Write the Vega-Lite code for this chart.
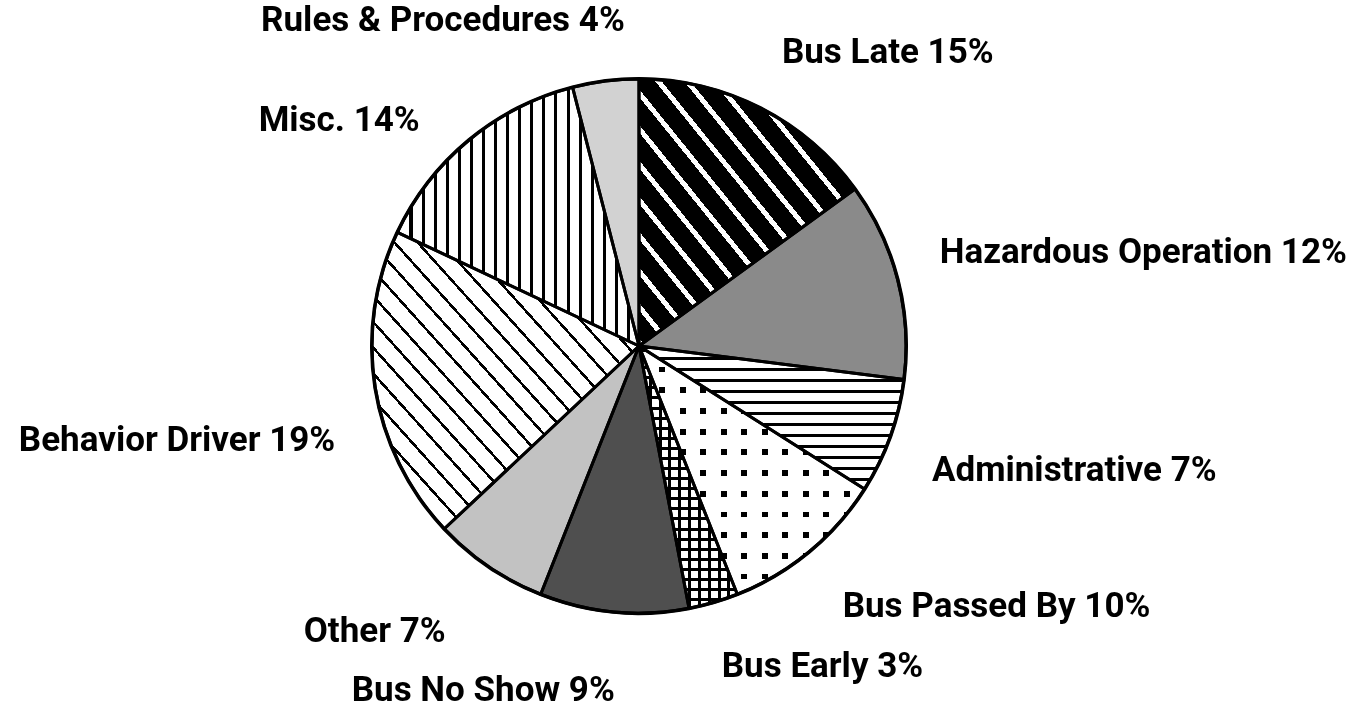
{
"$schema": "https://vega.github.io/schema/vega-lite/v6.json",
"width": 1278, "height": 692,
"autosize": "none",
"padding": {"left": 0, "top": 0, "right": 81, "bottom": 23},
"background": "#ffffff",
"config": {"view": {"stroke": null}, "text": {"font": "Roboto", "fontWeight": "bold", "fontSize": 35, "fill": "#000", "baseline": "middle"}},
"data": {"values": [
{"idx": 1, "cause": "Bus Late", "pct": 15, "label": "Bus Late 15%"},
{"idx": 2, "cause": "Hazardous Operation", "pct": 12, "label": "Hazardous Operation 12%"},
{"idx": 3, "cause": "Administrative", "pct": 7, "label": "Administrative 7%"},
{"idx": 4, "cause": "Bus Passed By", "pct": 10, "label": "Bus Passed By 10%"},
{"idx": 5, "cause": "Bus Early", "pct": 3, "label": "Bus Early 3%"},
{"idx": 6, "cause": "Bus No Show", "pct": 9, "label": "Bus No Show 9%"},
{"idx": 7, "cause": "Other", "pct": 7, "label": "Other 7%"},
{"idx": 8, "cause": "Behavior Driver", "pct": 19, "label": "Behavior Driver 19%"},
{"idx": 9, "cause": "Misc.", "pct": 14, "label": "Misc. 14%"},
{"idx": 10, "cause": "Rules & Procedures", "pct": 4, "label": "Rules & Procedures 4%"}
]},
"encoding": {
 "theta": {"field": "pct", "type": "quantitative", "stack": true},
 "order": {"field": "idx", "type": "quantitative"}
},
"layer": [
{
 "mark": {"type": "arc", "radius": 267, "strokeWidth": 0},
 "encoding": {
  "fill": {"condition": [
   {"test": "datum.cause === 'Bus Late'", "value": {"gradient": "linear", "x1": 0, "y1": 1, "x2": 1, "y2": 0, "stops": [
{"offset":0,"color":"#fff"},{"offset":0.0147,"color":"#fff"},{"offset":0.0147,"color":"#000"},{"offset":0.0667,"color":"#000"},
{"offset":0.0667,"color":"#fff"},{"offset":0.0813,"color":"#fff"},{"offset":0.0813,"color":"#000"},{"offset":0.1333,"color":"#000"},
{"offset":0.1333,"color":"#fff"},{"offset":0.148,"color":"#fff"},{"offset":0.148,"color":"#000"},{"offset":0.2,"color":"#000"},
{"offset":0.2,"color":"#fff"},{"offset":0.2147,"color":"#fff"},{"offset":0.2147,"color":"#000"},{"offset":0.2667,"color":"#000"},
{"offset":0.2667,"color":"#fff"},{"offset":0.2813,"color":"#fff"},{"offset":0.2813,"color":"#000"},{"offset":0.3333,"color":"#000"},
{"offset":0.3333,"color":"#fff"},{"offset":0.348,"color":"#fff"},{"offset":0.348,"color":"#000"},{"offset":0.4,"color":"#000"},
{"offset":0.4,"color":"#fff"},{"offset":0.4147,"color":"#fff"},{"offset":0.4147,"color":"#000"},{"offset":0.4667,"color":"#000"},
{"offset":0.4667,"color":"#fff"},{"offset":0.4813,"color":"#fff"},{"offset":0.4813,"color":"#000"},{"offset":0.5333,"color":"#000"},
{"offset":0.5333,"color":"#fff"},{"offset":0.548,"color":"#fff"},{"offset":0.548,"color":"#000"},{"offset":0.6,"color":"#000"},
{"offset":0.6,"color":"#fff"},{"offset":0.6147,"color":"#fff"},{"offset":0.6147,"color":"#000"},{"offset":0.6667,"color":"#000"},
{"offset":0.6667,"color":"#fff"},{"offset":0.6813,"color":"#fff"},{"offset":0.6813,"color":"#000"},{"offset":0.7333,"color":"#000"},
{"offset":0.7333,"color":"#fff"},{"offset":0.748,"color":"#fff"},{"offset":0.748,"color":"#000"},{"offset":0.8,"color":"#000"},
{"offset":0.8,"color":"#fff"},{"offset":0.8147,"color":"#fff"},{"offset":0.8147,"color":"#000"},{"offset":0.8667,"color":"#000"},
{"offset":0.8667,"color":"#fff"},{"offset":0.8813,"color":"#fff"},{"offset":0.8813,"color":"#000"},{"offset":0.9333,"color":"#000"},
{"offset":0.9333,"color":"#fff"},{"offset":0.948,"color":"#fff"},{"offset":0.948,"color":"#000"},{"offset":1,"color":"#000"}
   ]}},
   {"test": "datum.cause === 'Behavior Driver'", "value": {"gradient": "linear", "x1": 0, "y1": 1, "x2": 1, "y2": 0, "stops": [
{"offset":0,"color":"#000"},{"offset":0.0065,"color":"#000"},{"offset":0.0065,"color":"#fff"},{"offset":0.0435,"color":"#fff"},
{"offset":0.0435,"color":"#000"},{"offset":0.05,"color":"#000"},{"offset":0.05,"color":"#fff"},{"offset":0.087,"color":"#fff"},
{"offset":0.087,"color":"#000"},{"offset":0.0935,"color":"#000"},{"offset":0.0935,"color":"#fff"},{"offset":0.1304,"color":"#fff"},
{"offset":0.1304,"color":"#000"},{"offset":0.1369,"color":"#000"},{"offset":0.1369,"color":"#fff"},{"offset":0.1739,"color":"#fff"},
{"offset":0.1739,"color":"#000"},{"offset":0.1804,"color":"#000"},{"offset":0.1804,"color":"#fff"},{"offset":0.2174,"color":"#fff"},
{"offset":0.2174,"color":"#000"},{"offset":0.2239,"color":"#000"},{"offset":0.2239,"color":"#fff"},{"offset":0.2609,"color":"#fff"},
{"offset":0.2609,"color":"#000"},{"offset":0.2674,"color":"#000"},{"offset":0.2674,"color":"#fff"},{"offset":0.3043,"color":"#fff"},
{"offset":0.3043,"color":"#000"},{"offset":0.3108,"color":"#000"},{"offset":0.3108,"color":"#fff"},{"offset":0.3478,"color":"#fff"},
{"offset":0.3478,"color":"#000"},{"offset":0.3543,"color":"#000"},{"offset":0.3543,"color":"#fff"},{"offset":0.3913,"color":"#fff"},
{"offset":0.3913,"color":"#000"},{"offset":0.3978,"color":"#000"},{"offset":0.3978,"color":"#fff"},{"offset":0.4348,"color":"#fff"},
{"offset":0.4348,"color":"#000"},{"offset":0.4413,"color":"#000"},{"offset":0.4413,"color":"#fff"},{"offset":0.4783,"color":"#fff"},
{"offset":0.4783,"color":"#000"},{"offset":0.4848,"color":"#000"},{"offset":0.4848,"color":"#fff"},{"offset":0.5217,"color":"#fff"},
{"offset":0.5217,"color":"#000"},{"offset":0.5282,"color":"#000"},{"offset":0.5282,"color":"#fff"},{"offset":0.5652,"color":"#fff"},
{"offset":0.5652,"color":"#000"},{"offset":0.5717,"color":"#000"},{"offset":0.5717,"color":"#fff"},{"offset":0.6087,"color":"#fff"},
{"offset":0.6087,"color":"#000"},{"offset":0.6152,"color":"#000"},{"offset":0.6152,"color":"#fff"},{"offset":0.6522,"color":"#fff"},
{"offset":0.6522,"color":"#000"},{"offset":0.6587,"color":"#000"},{"offset":0.6587,"color":"#fff"},{"offset":0.6957,"color":"#fff"},
{"offset":0.6957,"color":"#000"},{"offset":0.7022,"color":"#000"},{"offset":0.7022,"color":"#fff"},{"offset":0.7391,"color":"#fff"},
{"offset":0.7391,"color":"#000"},{"offset":0.7456,"color":"#000"},{"offset":0.7456,"color":"#fff"},{"offset":0.7826,"color":"#fff"},
{"offset":0.7826,"color":"#000"},{"offset":0.7891,"color":"#000"},{"offset":0.7891,"color":"#fff"},{"offset":0.8261,"color":"#fff"},
{"offset":0.8261,"color":"#000"},{"offset":0.8326,"color":"#000"},{"offset":0.8326,"color":"#fff"},{"offset":0.8696,"color":"#fff"},
{"offset":0.8696,"color":"#000"},{"offset":0.8761,"color":"#000"},{"offset":0.8761,"color":"#fff"},{"offset":0.913,"color":"#fff"},
{"offset":0.913,"color":"#000"},{"offset":0.9195,"color":"#000"},{"offset":0.9195,"color":"#fff"},{"offset":0.9565,"color":"#fff"},
{"offset":0.9565,"color":"#000"},{"offset":0.963,"color":"#000"},{"offset":0.963,"color":"#fff"},{"offset":1,"color":"#fff"}
   ]}},
   {"test": "datum.cause === 'Misc.'", "value": {"gradient": "linear", "x1": 0, "y1": 0, "x2": 1, "y2": 0, "stops": [
{"offset":0,"color":"#000"},{"offset":0.0125,"color":"#000"},{"offset":0.0125,"color":"#fff"},{"offset":0.05,"color":"#fff"},
{"offset":0.05,"color":"#000"},{"offset":0.0625,"color":"#000"},{"offset":0.0625,"color":"#fff"},{"offset":0.1,"color":"#fff"},
{"offset":0.1,"color":"#000"},{"offset":0.1125,"color":"#000"},{"offset":0.1125,"color":"#fff"},{"offset":0.15,"color":"#fff"},
{"offset":0.15,"color":"#000"},{"offset":0.1625,"color":"#000"},{"offset":0.1625,"color":"#fff"},{"offset":0.2,"color":"#fff"},
{"offset":0.2,"color":"#000"},{"offset":0.2125,"color":"#000"},{"offset":0.2125,"color":"#fff"},{"offset":0.25,"color":"#fff"},
{"offset":0.25,"color":"#000"},{"offset":0.2625,"color":"#000"},{"offset":0.2625,"color":"#fff"},{"offset":0.3,"color":"#fff"},
{"offset":0.3,"color":"#000"},{"offset":0.3125,"color":"#000"},{"offset":0.3125,"color":"#fff"},{"offset":0.35,"color":"#fff"},
{"offset":0.35,"color":"#000"},{"offset":0.3625,"color":"#000"},{"offset":0.3625,"color":"#fff"},{"offset":0.4,"color":"#fff"},
{"offset":0.4,"color":"#000"},{"offset":0.4125,"color":"#000"},{"offset":0.4125,"color":"#fff"},{"offset":0.45,"color":"#fff"},
{"offset":0.45,"color":"#000"},{"offset":0.4625,"color":"#000"},{"offset":0.4625,"color":"#fff"},{"offset":0.5,"color":"#fff"},
{"offset":0.5,"color":"#000"},{"offset":0.5125,"color":"#000"},{"offset":0.5125,"color":"#fff"},{"offset":0.55,"color":"#fff"},
{"offset":0.55,"color":"#000"},{"offset":0.5625,"color":"#000"},{"offset":0.5625,"color":"#fff"},{"offset":0.6,"color":"#fff"},
{"offset":0.6,"color":"#000"},{"offset":0.6125,"color":"#000"},{"offset":0.6125,"color":"#fff"},{"offset":0.65,"color":"#fff"},
{"offset":0.65,"color":"#000"},{"offset":0.6625,"color":"#000"},{"offset":0.6625,"color":"#fff"},{"offset":0.7,"color":"#fff"},
{"offset":0.7,"color":"#000"},{"offset":0.7125,"color":"#000"},{"offset":0.7125,"color":"#fff"},{"offset":0.75,"color":"#fff"},
{"offset":0.75,"color":"#000"},{"offset":0.7625,"color":"#000"},{"offset":0.7625,"color":"#fff"},{"offset":0.8,"color":"#fff"},
{"offset":0.8,"color":"#000"},{"offset":0.8125,"color":"#000"},{"offset":0.8125,"color":"#fff"},{"offset":0.85,"color":"#fff"},
{"offset":0.85,"color":"#000"},{"offset":0.8625,"color":"#000"},{"offset":0.8625,"color":"#fff"},{"offset":0.9,"color":"#fff"},
{"offset":0.9,"color":"#000"},{"offset":0.9125,"color":"#000"},{"offset":0.9125,"color":"#fff"},{"offset":0.95,"color":"#fff"},
{"offset":0.95,"color":"#000"},{"offset":0.9625,"color":"#000"},{"offset":0.9625,"color":"#fff"},{"offset":1,"color":"#fff"}
   ]}},
   {"test": "datum.cause === 'Administrative'", "value": {"gradient": "linear", "x1": 0, "y1": 0, "x2": 0, "y2": 1, "stops": [
{"offset":0,"color":"#000"},{"offset":0.0231,"color":"#000"},{"offset":0.0231,"color":"#fff"},{"offset":0.0769,"color":"#fff"},
{"offset":0.0769,"color":"#000"},{"offset":0.1,"color":"#000"},{"offset":0.1,"color":"#fff"},{"offset":0.1538,"color":"#fff"},
{"offset":0.1538,"color":"#000"},{"offset":0.1769,"color":"#000"},{"offset":0.1769,"color":"#fff"},{"offset":0.2308,"color":"#fff"},
{"offset":0.2308,"color":"#000"},{"offset":0.2539,"color":"#000"},{"offset":0.2539,"color":"#fff"},{"offset":0.3077,"color":"#fff"},
{"offset":0.3077,"color":"#000"},{"offset":0.3308,"color":"#000"},{"offset":0.3308,"color":"#fff"},{"offset":0.3846,"color":"#fff"},
{"offset":0.3846,"color":"#000"},{"offset":0.4077,"color":"#000"},{"offset":0.4077,"color":"#fff"},{"offset":0.4615,"color":"#fff"},
{"offset":0.4615,"color":"#000"},{"offset":0.4846,"color":"#000"},{"offset":0.4846,"color":"#fff"},{"offset":0.5385,"color":"#fff"},
{"offset":0.5385,"color":"#000"},{"offset":0.5616,"color":"#000"},{"offset":0.5616,"color":"#fff"},{"offset":0.6154,"color":"#fff"},
{"offset":0.6154,"color":"#000"},{"offset":0.6385,"color":"#000"},{"offset":0.6385,"color":"#fff"},{"offset":0.6923,"color":"#fff"},
{"offset":0.6923,"color":"#000"},{"offset":0.7154,"color":"#000"},{"offset":0.7154,"color":"#fff"},{"offset":0.7692,"color":"#fff"},
{"offset":0.7692,"color":"#000"},{"offset":0.7923,"color":"#000"},{"offset":0.7923,"color":"#fff"},{"offset":0.8462,"color":"#fff"},
{"offset":0.8462,"color":"#000"},{"offset":0.8693,"color":"#000"},{"offset":0.8693,"color":"#fff"},{"offset":0.9231,"color":"#fff"},
{"offset":0.9231,"color":"#000"},{"offset":0.9462,"color":"#000"},{"offset":0.9462,"color":"#fff"},{"offset":1,"color":"#fff"}
   ]}},
   {"test": "datum.cause === 'Bus Passed By'", "value": {"gradient": "linear", "x1": 0, "y1": 0, "x2": 1, "y2": 0, "stops": [
{"offset":0,"color":"#000"},{"offset":0.0255,"color":"#000"},{"offset":0.0255,"color":"#fff"},{"offset":0.0909,"color":"#fff"},
{"offset":0.0909,"color":"#000"},{"offset":0.1164,"color":"#000"},{"offset":0.1164,"color":"#fff"},{"offset":0.1818,"color":"#fff"},
{"offset":0.1818,"color":"#000"},{"offset":0.2073,"color":"#000"},{"offset":0.2073,"color":"#fff"},{"offset":0.2727,"color":"#fff"},
{"offset":0.2727,"color":"#000"},{"offset":0.2982,"color":"#000"},{"offset":0.2982,"color":"#fff"},{"offset":0.3636,"color":"#fff"},
{"offset":0.3636,"color":"#000"},{"offset":0.3891,"color":"#000"},{"offset":0.3891,"color":"#fff"},{"offset":0.4545,"color":"#fff"},
{"offset":0.4545,"color":"#000"},{"offset":0.48,"color":"#000"},{"offset":0.48,"color":"#fff"},{"offset":0.5455,"color":"#fff"},
{"offset":0.5455,"color":"#000"},{"offset":0.571,"color":"#000"},{"offset":0.571,"color":"#fff"},{"offset":0.6364,"color":"#fff"},
{"offset":0.6364,"color":"#000"},{"offset":0.6619,"color":"#000"},{"offset":0.6619,"color":"#fff"},{"offset":0.7273,"color":"#fff"},
{"offset":0.7273,"color":"#000"},{"offset":0.7528,"color":"#000"},{"offset":0.7528,"color":"#fff"},{"offset":0.8182,"color":"#fff"},
{"offset":0.8182,"color":"#000"},{"offset":0.8437,"color":"#000"},{"offset":0.8437,"color":"#fff"},{"offset":0.9091,"color":"#fff"},
{"offset":0.9091,"color":"#000"},{"offset":0.9346,"color":"#000"},{"offset":0.9346,"color":"#fff"},{"offset":1,"color":"#fff"}
   ]}},
   {"test": "datum.cause === 'Bus Early'", "value": {"gradient": "linear", "x1": 0, "y1": 0, "x2": 1, "y2": 0, "stops": [
{"offset":0,"color":"#000"},{"offset":0.03,"color":"#000"},{"offset":0.03,"color":"#fff"},{"offset":0.1,"color":"#fff"},
{"offset":0.1,"color":"#000"},{"offset":0.13,"color":"#000"},{"offset":0.13,"color":"#fff"},{"offset":0.2,"color":"#fff"},
{"offset":0.2,"color":"#000"},{"offset":0.23,"color":"#000"},{"offset":0.23,"color":"#fff"},{"offset":0.3,"color":"#fff"},
{"offset":0.3,"color":"#000"},{"offset":0.33,"color":"#000"},{"offset":0.33,"color":"#fff"},{"offset":0.4,"color":"#fff"},
{"offset":0.4,"color":"#000"},{"offset":0.43,"color":"#000"},{"offset":0.43,"color":"#fff"},{"offset":0.5,"color":"#fff"},
{"offset":0.5,"color":"#000"},{"offset":0.53,"color":"#000"},{"offset":0.53,"color":"#fff"},{"offset":0.6,"color":"#fff"},
{"offset":0.6,"color":"#000"},{"offset":0.63,"color":"#000"},{"offset":0.63,"color":"#fff"},{"offset":0.7,"color":"#fff"},
{"offset":0.7,"color":"#000"},{"offset":0.73,"color":"#000"},{"offset":0.73,"color":"#fff"},{"offset":0.8,"color":"#fff"},
{"offset":0.8,"color":"#000"},{"offset":0.83,"color":"#000"},{"offset":0.83,"color":"#fff"},{"offset":0.9,"color":"#fff"},
{"offset":0.9,"color":"#000"},{"offset":0.93,"color":"#000"},{"offset":0.93,"color":"#fff"},{"offset":1,"color":"#fff"}
   ]}},
   {"test": "datum.cause === 'Hazardous Operation'", "value": "#8a8a8a"},
   {"test": "datum.cause === 'Other'", "value": "#c2c2c2"},
   {"test": "datum.cause === 'Bus No Show'", "value": "#4f4f4f"}
  ], "value": "#d2d2d2"}
 }
},
{
 "mark": {"type": "arc", "radius": 267, "strokeWidth": 0, "blend": "lighten"},
 "encoding": {
  "fill": {"condition": {"test": "datum.cause === 'Bus Passed By'", "value": {"gradient": "linear", "x1": 0, "y1": 0, "x2": 0, "y2": 1, "stops": [
{"offset":0,"color":"#000"},{"offset":0.0233,"color":"#000"},{"offset":0.0233,"color":"#fff"},{"offset":0.0833,"color":"#fff"},
{"offset":0.0833,"color":"#000"},{"offset":0.1066,"color":"#000"},{"offset":0.1066,"color":"#fff"},{"offset":0.1667,"color":"#fff"},
{"offset":0.1667,"color":"#000"},{"offset":0.19,"color":"#000"},{"offset":0.19,"color":"#fff"},{"offset":0.25,"color":"#fff"},
{"offset":0.25,"color":"#000"},{"offset":0.2733,"color":"#000"},{"offset":0.2733,"color":"#fff"},{"offset":0.3333,"color":"#fff"},
{"offset":0.3333,"color":"#000"},{"offset":0.3566,"color":"#000"},{"offset":0.3566,"color":"#fff"},{"offset":0.4167,"color":"#fff"},
{"offset":0.4167,"color":"#000"},{"offset":0.44,"color":"#000"},{"offset":0.44,"color":"#fff"},{"offset":0.5,"color":"#fff"},
{"offset":0.5,"color":"#000"},{"offset":0.5233,"color":"#000"},{"offset":0.5233,"color":"#fff"},{"offset":0.5833,"color":"#fff"},
{"offset":0.5833,"color":"#000"},{"offset":0.6066,"color":"#000"},{"offset":0.6066,"color":"#fff"},{"offset":0.6667,"color":"#fff"},
{"offset":0.6667,"color":"#000"},{"offset":0.69,"color":"#000"},{"offset":0.69,"color":"#fff"},{"offset":0.75,"color":"#fff"},
{"offset":0.75,"color":"#000"},{"offset":0.7733,"color":"#000"},{"offset":0.7733,"color":"#fff"},{"offset":0.8333,"color":"#fff"},
{"offset":0.8333,"color":"#000"},{"offset":0.8566,"color":"#000"},{"offset":0.8566,"color":"#fff"},{"offset":0.9167,"color":"#fff"},
{"offset":0.9167,"color":"#000"},{"offset":0.94,"color":"#000"},{"offset":0.94,"color":"#fff"},{"offset":1,"color":"#fff"}
  ]}}, "value": "transparent"}
 }
},
{
 "mark": {"type": "arc", "radius": 267, "strokeWidth": 0},
 "encoding": {
  "fill": {"condition": {"test": "datum.cause === 'Bus Early'", "value": {"gradient": "linear", "x1": 0, "y1": 0, "x2": 0, "y2": 1, "stops": [
{"offset":0,"color":"#000"},{"offset":0.0115,"color":"#000"},{"offset":0.0115,"color":"rgba(0,0,0,0)"},{"offset":0.0385,"color":"rgba(0,0,0,0)"},
{"offset":0.0385,"color":"#000"},{"offset":0.05,"color":"#000"},{"offset":0.05,"color":"rgba(0,0,0,0)"},{"offset":0.0769,"color":"rgba(0,0,0,0)"},
{"offset":0.0769,"color":"#000"},{"offset":0.0884,"color":"#000"},{"offset":0.0884,"color":"rgba(0,0,0,0)"},{"offset":0.1154,"color":"rgba(0,0,0,0)"},
{"offset":0.1154,"color":"#000"},{"offset":0.1269,"color":"#000"},{"offset":0.1269,"color":"rgba(0,0,0,0)"},{"offset":0.1538,"color":"rgba(0,0,0,0)"},
{"offset":0.1538,"color":"#000"},{"offset":0.1653,"color":"#000"},{"offset":0.1653,"color":"rgba(0,0,0,0)"},{"offset":0.1923,"color":"rgba(0,0,0,0)"},
{"offset":0.1923,"color":"#000"},{"offset":0.2038,"color":"#000"},{"offset":0.2038,"color":"rgba(0,0,0,0)"},{"offset":0.2308,"color":"rgba(0,0,0,0)"},
{"offset":0.2308,"color":"#000"},{"offset":0.2423,"color":"#000"},{"offset":0.2423,"color":"rgba(0,0,0,0)"},{"offset":0.2692,"color":"rgba(0,0,0,0)"},
{"offset":0.2692,"color":"#000"},{"offset":0.2807,"color":"#000"},{"offset":0.2807,"color":"rgba(0,0,0,0)"},{"offset":0.3077,"color":"rgba(0,0,0,0)"},
{"offset":0.3077,"color":"#000"},{"offset":0.3192,"color":"#000"},{"offset":0.3192,"color":"rgba(0,0,0,0)"},{"offset":0.3462,"color":"rgba(0,0,0,0)"},
{"offset":0.3462,"color":"#000"},{"offset":0.3577,"color":"#000"},{"offset":0.3577,"color":"rgba(0,0,0,0)"},{"offset":0.3846,"color":"rgba(0,0,0,0)"},
{"offset":0.3846,"color":"#000"},{"offset":0.3961,"color":"#000"},{"offset":0.3961,"color":"rgba(0,0,0,0)"},{"offset":0.4231,"color":"rgba(0,0,0,0)"},
{"offset":0.4231,"color":"#000"},{"offset":0.4346,"color":"#000"},{"offset":0.4346,"color":"rgba(0,0,0,0)"},{"offset":0.4615,"color":"rgba(0,0,0,0)"},
{"offset":0.4615,"color":"#000"},{"offset":0.473,"color":"#000"},{"offset":0.473,"color":"rgba(0,0,0,0)"},{"offset":0.5,"color":"rgba(0,0,0,0)"},
{"offset":0.5,"color":"#000"},{"offset":0.5115,"color":"#000"},{"offset":0.5115,"color":"rgba(0,0,0,0)"},{"offset":0.5385,"color":"rgba(0,0,0,0)"},
{"offset":0.5385,"color":"#000"},{"offset":0.55,"color":"#000"},{"offset":0.55,"color":"rgba(0,0,0,0)"},{"offset":0.5769,"color":"rgba(0,0,0,0)"},
{"offset":0.5769,"color":"#000"},{"offset":0.5884,"color":"#000"},{"offset":0.5884,"color":"rgba(0,0,0,0)"},{"offset":0.6154,"color":"rgba(0,0,0,0)"},
{"offset":0.6154,"color":"#000"},{"offset":0.6269,"color":"#000"},{"offset":0.6269,"color":"rgba(0,0,0,0)"},{"offset":0.6538,"color":"rgba(0,0,0,0)"},
{"offset":0.6538,"color":"#000"},{"offset":0.6653,"color":"#000"},{"offset":0.6653,"color":"rgba(0,0,0,0)"},{"offset":0.6923,"color":"rgba(0,0,0,0)"},
{"offset":0.6923,"color":"#000"},{"offset":0.7038,"color":"#000"},{"offset":0.7038,"color":"rgba(0,0,0,0)"},{"offset":0.7308,"color":"rgba(0,0,0,0)"},
{"offset":0.7308,"color":"#000"},{"offset":0.7423,"color":"#000"},{"offset":0.7423,"color":"rgba(0,0,0,0)"},{"offset":0.7692,"color":"rgba(0,0,0,0)"},
{"offset":0.7692,"color":"#000"},{"offset":0.7807,"color":"#000"},{"offset":0.7807,"color":"rgba(0,0,0,0)"},{"offset":0.8077,"color":"rgba(0,0,0,0)"},
{"offset":0.8077,"color":"#000"},{"offset":0.8192,"color":"#000"},{"offset":0.8192,"color":"rgba(0,0,0,0)"},{"offset":0.8462,"color":"rgba(0,0,0,0)"},
{"offset":0.8462,"color":"#000"},{"offset":0.8577,"color":"#000"},{"offset":0.8577,"color":"rgba(0,0,0,0)"},{"offset":0.8846,"color":"rgba(0,0,0,0)"},
{"offset":0.8846,"color":"#000"},{"offset":0.8961,"color":"#000"},{"offset":0.8961,"color":"rgba(0,0,0,0)"},{"offset":0.9231,"color":"rgba(0,0,0,0)"},
{"offset":0.9231,"color":"#000"},{"offset":0.9346,"color":"#000"},{"offset":0.9346,"color":"rgba(0,0,0,0)"},{"offset":0.9615,"color":"rgba(0,0,0,0)"},
{"offset":0.9615,"color":"#000"},{"offset":0.973,"color":"#000"},{"offset":0.973,"color":"rgba(0,0,0,0)"},{"offset":1,"color":"rgba(0,0,0,0)"}
  ]}}, "value": "transparent"}
 }
},
{
 "mark": {"type": "arc", "radius": 267, "fill": "transparent", "stroke": "#000", "strokeWidth": 3, "strokeJoin": "round"}
},
{
 "mark": {"type": "arc", "radius": 269, "radius2": 265.5, "fill": "#000", "strokeWidth": 0}
},
{
 "mark": {"type": "text", "radius": 327, "thetaOffset": -0.019, "align": "left"},
 "encoding": {"text": {"condition": {"test": "datum.idx === 1", "field": "label"}, "value": ""}}
},
{
 "mark": {"type": "text", "radius": 315, "thetaOffset": -0.051, "align": "left"},
 "encoding": {"text": {"condition": {"test": "datum.idx === 2", "field": "label"}, "value": ""}}
},
{
 "mark": {"type": "text", "radius": 318, "thetaOffset": 0.054, "align": "left"},
 "encoding": {"text": {"condition": {"test": "datum.idx === 3", "field": "label"}, "value": ""}}
},
{
 "mark": {"type": "text", "radius": 330, "thetaOffset": 0.026, "align": "left"},
 "encoding": {"text": {"condition": {"test": "datum.idx === 4", "field": "label"}, "value": ""}}
},
{
 "mark": {"type": "text", "radius": 331, "thetaOffset": 0.03, "align": "left"},
 "encoding": {"text": {"condition": {"test": "datum.idx === 5", "field": "label"}, "value": ""}}
},
{
 "mark": {"type": "text", "radius": 345, "thetaOffset": -0.024, "align": "right"},
 "encoding": {"text": {"condition": {"test": "datum.idx === 6", "field": "label"}, "value": ""}}
},
{
 "mark": {"type": "text", "radius": 344, "align": "right"},
 "encoding": {"text": {"condition": {"test": "datum.idx === 7", "field": "label"}, "value": ""}}
},
{
 "mark": {"type": "text", "radius": 318, "thetaOffset": -0.143, "align": "right"},
 "encoding": {"text": {"condition": {"test": "datum.idx === 8", "field": "label"}, "value": ""}}
},
{
 "mark": {"type": "text", "radius": 315, "thetaOffset": -0.079, "align": "right"},
 "encoding": {"text": {"condition": {"test": "datum.idx === 9", "field": "label"}, "value": ""}}
},
{
 "mark": {"type": "text", "radius": 326, "thetaOffset": 0.082, "align": "right"},
 "encoding": {"text": {"condition": {"test": "datum.idx === 10", "field": "label"}, "value": ""}}
}
]
}
